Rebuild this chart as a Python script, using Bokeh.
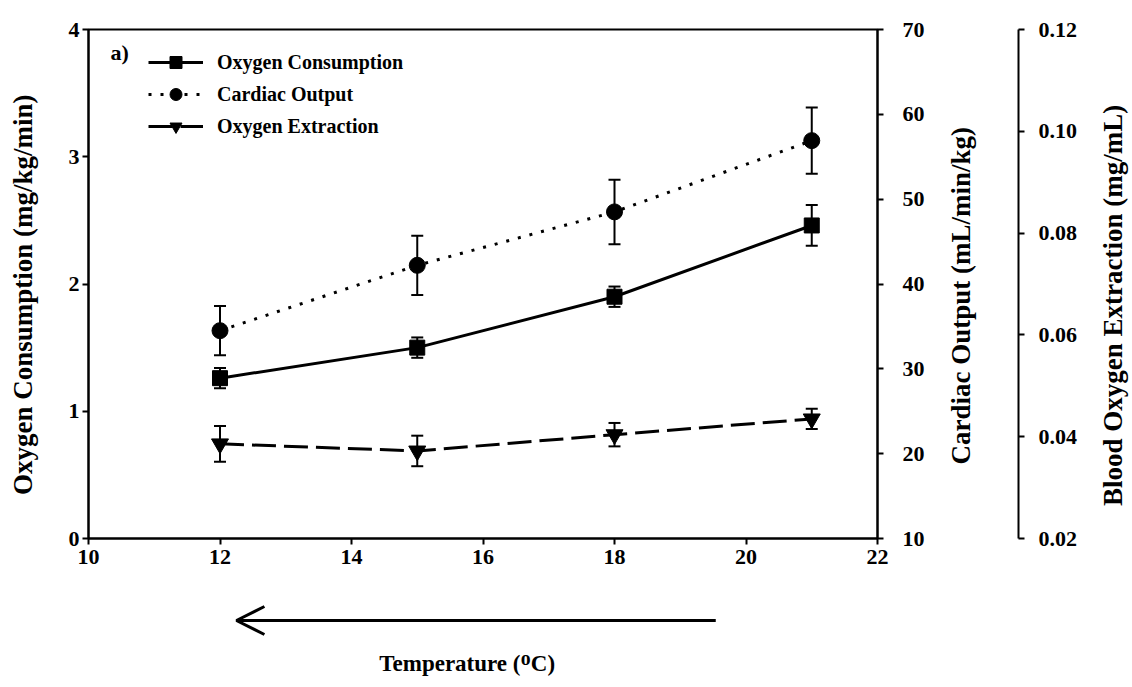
import math
from bokeh.plotting import figure
from bokeh.layouts import column, row
from bokeh.models import (LinearAxis, Range1d, FixedTicker, Whisker, TeeHead, Arrow,
                          OpenHead, Label, Legend, LegendItem, ColumnDataSource,
                          PrintfTickFormatter)
from bokeh.embed import file_html
from bokeh.resources import INLINE

# ---- data ----
temps = [12, 15, 18, 21]
o2_consumption = [1.26, 1.50, 1.90, 2.46]
o2_consumption_err = [0.08, 0.08, 0.08, 0.16]
cardiac_output = [34.5, 42.2, 48.5, 56.9]
cardiac_output_err = [2.9, 3.5, 3.8, 3.9]
o2_extraction = [0.0386, 0.0372, 0.0404, 0.0435]
o2_extraction_err = [0.0035, 0.003, 0.0023, 0.002]

x_ticks = [10, 12, 14, 16, 18, 20, 22]
left_ticks = [0, 1, 2, 3, 4]
co_ticks = [10, 20, 30, 40, 50, 60, 70]
ext_ticks = [0.02, 0.04, 0.06, 0.08, 0.10, 0.12]

x_title = "Temperature (ᴼC)"
left_title = "Oxygen Consumption (mg/kg/min)"
co_title = "Cardiac Output (mL/min/kg)"
ext_title = "Blood Oxygen Extraction (mg/mL)"
series_names = ["Oxygen Consumption", "Cardiac Output", "Oxygen Extraction"]

# decoration: direction-of-change arrow under the x axis (x in data units)
arrow_x_start, arrow_x_end = 19.54, 12.25

FONT = "Liberation Serif"
FRAME_H = 509
TOP, BOTTOM = 29, 50

x_range = Range1d(10, 22)
y_range = Range1d(0, 4)
co_range = Range1d(10, 70)
ext_range = Range1d(0.02, 0.12)


def style_axis(ax, ticks):
    ax.ticker = FixedTicker(ticks=ticks)
    ax.axis_line_width = 2
    ax.axis_line_color = "black"
    ax.major_tick_line_width = 2
    ax.major_tick_line_color = "black"
    ax.major_tick_in = 0
    ax.major_tick_out = 6
    ax.minor_tick_line_color = None
    ax.major_label_text_font = FONT
    ax.major_label_text_font_size = "22px"
    ax.major_label_text_font_style = "bold"
    ax.major_label_text_color = "black"


def blank(fig):
    fig.grid.visible = False
    fig.outline_line_color = None
    fig.background_fill_color = "white"
    fig.border_fill_color = "white"


title_kw = dict(text_font=FONT, text_font_style="bold", text_color="black",
                text_align="center", text_baseline="middle", angle=math.pi / 2,
                text_font_size="27px")

# ---- main plot ----
p = figure(frame_width=789, frame_height=FRAME_H,
           min_border_left=48, min_border_top=TOP, min_border_bottom=BOTTOM,
           min_border_right=55, x_range=x_range, y_range=y_range,
           output_backend="svg", toolbar_location=None)
p.extra_y_ranges = {"co": co_range, "ext": ext_range}
p.grid.visible = False
p.outline_line_color = "black"
p.outline_line_width = 2
p.background_fill_color = "white"
p.border_fill_color = "white"

xa = p.xaxis[0]
style_axis(xa, x_ticks)
xa.major_label_standoff = 5

ya = p.yaxis[0]
style_axis(ya, left_ticks)
ya.major_label_standoff = 3

co_axis = LinearAxis(y_range_name="co")
style_axis(co_axis, co_ticks)
co_axis.major_label_standoff = 19
p.add_layout(co_axis, "right")


def make_src(vals, errs):
    return ColumnDataSource(dict(x=temps, y=vals,
                                 lo=[v - e for v, e in zip(vals, errs)],
                                 hi=[v + e for v, e in zip(vals, errs)]))


src_cons = make_src(o2_consumption, o2_consumption_err)
src_co = make_src(cardiac_output, cardiac_output_err)
src_ext = make_src(o2_extraction, o2_extraction_err)

for src, rng in ((src_cons, "default"), (src_co, "co"), (src_ext, "ext")):
    p.add_layout(Whisker(source=src, base="x", upper="hi", lower="lo", dimension="height",
                         y_range_name=rng, line_width=2, line_color="black",
                         upper_head=TeeHead(size=12, line_width=2, line_color="black"),
                         lower_head=TeeHead(size=12, line_width=2, line_color="black")))

l1 = p.line("x", "y", source=src_cons, line_width=3, line_color="black")
m1 = p.scatter("x", "y", source=src_cons, marker="square", size=15,
               fill_color="black", line_color="black")
l2 = p.line("x", "y", source=src_co, y_range_name="co", line_width=3,
            line_color="black", line_dash="3 9")
m2 = p.scatter("x", "y", source=src_co, y_range_name="co", marker="circle", size=16,
               fill_color="black", line_color="black")
l3 = p.line("x", "y", source=src_ext, y_range_name="ext", line_width=3,
            line_color="black", line_dash="24 8")
m3 = p.scatter("x", "y", source=src_ext, y_range_name="ext", marker="inverted_triangle",
               size=17, fill_color="black", line_color="black")

legend = Legend(items=[LegendItem(label=series_names[0], renderers=[l1, m1]),
                       LegendItem(label=series_names[1], renderers=[l2, m2]),
                       LegendItem(label=series_names[2], renderers=[l3, m3])],
                location=(60, 397), padding=0, spacing=2, glyph_width=55,
                glyph_height=30, label_height=30, label_standoff=14,
                border_line_color=None, background_fill_alpha=0,
                label_text_font=FONT, label_text_font_size="20px",
                label_text_font_style="bold", label_text_color="black")
p.add_layout(legend)

p.add_layout(Label(x=10.335, y=3.82, text="a)", text_font=FONT, text_font_size="22px",
                   text_font_style="bold", text_baseline="middle", text_color="black"))

# ---- left strip: title of the left axis ----
pl = figure(frame_width=40, frame_height=FRAME_H, x_range=Range1d(0, 1), y_range=Range1d(0, 1),
            min_border_left=0, min_border_right=0, min_border_top=TOP, min_border_bottom=BOTTOM,
            x_axis_location=None, y_axis_location=None,
            output_backend="svg", toolbar_location=None)
blank(pl)
pl.add_layout(Label(x=0.55, y=0.479, text=left_title, **title_kw))

# ---- middle strip: cardiac title + blood oxygen extraction axis ----
pb = figure(frame_width=86, frame_height=FRAME_H, x_range=Range1d(0, 1), y_range=ext_range,
            min_border_left=0, min_border_right=70, min_border_top=TOP, min_border_bottom=BOTTOM,
            x_axis_location=None, y_axis_location="right",
            output_backend="svg", toolbar_location=None)
blank(pb)
ext_axis = pb.yaxis[0]
style_axis(ext_axis, ext_ticks)
ext_axis.formatter = PrintfTickFormatter(format="%.2f")
ext_axis.major_label_standoff = 14
pb.add_layout(Label(x=0.326, y=0.0677, text=co_title, **title_kw))

# ---- right strip: title of the third axis ----
pc = figure(frame_width=44, frame_height=FRAME_H, x_range=Range1d(0, 1), y_range=Range1d(0, 1),
            min_border_left=0, min_border_right=0, min_border_top=TOP, min_border_bottom=BOTTOM,
            x_axis_location=None, y_axis_location=None,
            output_backend="svg", toolbar_location=None)
blank(pc)
pc.add_layout(Label(x=0.568, y=0.458, text=ext_title, **title_kw))

# ---- lower strip: arrow + x title, sharing the x range ----
p2 = figure(frame_width=789, frame_height=95, x_range=x_range, y_range=Range1d(0, 1),
            min_border_left=88, min_border_right=0, min_border_top=0, min_border_bottom=0,
            x_axis_location=None, y_axis_location=None,
            output_backend="svg", toolbar_location=None)
blank(p2)
p2.add_layout(Arrow(x_start=arrow_x_start, y_start=0.663, x_end=arrow_x_end, y_end=0.663,
                    line_width=3, line_color="black",
                    end=OpenHead(size=28, line_width=3, line_color="black")))
p2.add_layout(Label(x=15.76, y=0.21, text=x_title, text_font=FONT, text_font_size="23px",
                    text_font_style="bold", text_color="black", text_align="center",
                    text_baseline="middle"))

layout = column(row(pl, p, pb, pc, spacing=0), p2, spacing=0)
open("out.html", "w").write(file_html(layout, INLINE))
